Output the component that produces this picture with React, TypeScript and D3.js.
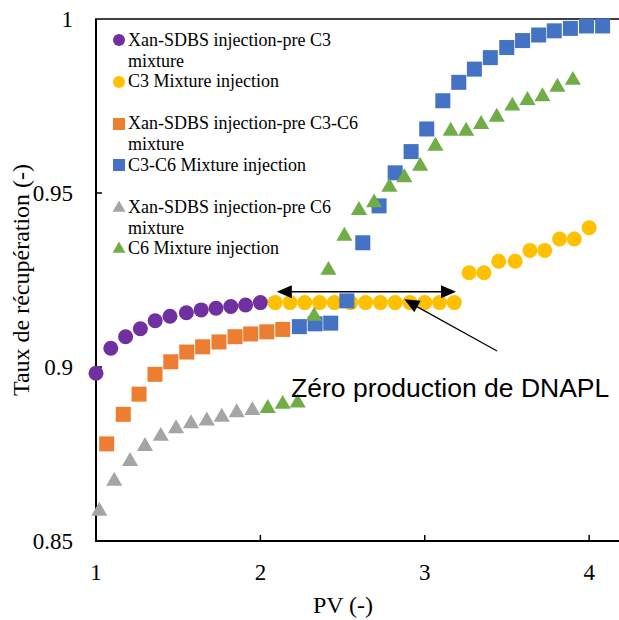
import React from "react";
import * as d3 from "d3";

const purpleX = [1.0, 1.09, 1.18, 1.27, 1.36, 1.45, 1.55, 1.64, 1.73, 1.82, 1.91, 2.0];
const purpleY = [0.8982, 0.9054, 0.9087, 0.911, 0.9133, 0.9146, 0.9156, 0.9164, 0.9169, 0.9174, 0.9178, 0.9185];

const yellowX = [2.09, 2.18, 2.27, 2.36, 2.45, 2.55, 2.64, 2.73, 2.82, 2.91, 3.0, 3.09, 3.18, 3.27, 3.36, 3.45, 3.55, 3.64, 3.73, 3.82, 3.91, 4.0];
const yellowY = [0.9185, 0.9185, 0.9185, 0.9185, 0.9185, 0.9185, 0.9185, 0.9185, 0.9185, 0.9185, 0.9185, 0.9185, 0.9185, 0.9271, 0.9271, 0.9304, 0.9304, 0.9335, 0.9335, 0.9368, 0.9368, 0.94];

const orangeX = [1.065, 1.166, 1.262, 1.359, 1.455, 1.552, 1.649, 1.748, 1.846, 1.941, 2.039, 2.136];
const orangeY = [0.8779, 0.8864, 0.8922, 0.8979, 0.9015, 0.9043, 0.9058, 0.9072, 0.9087, 0.9095, 0.9101, 0.9108];

const blueX = [2.237, 2.333, 2.428, 2.526, 2.623, 2.722, 2.82, 2.917, 3.012, 3.11, 3.207, 3.302, 3.399, 3.499, 3.595, 3.693, 3.788, 3.886, 3.984, 4.082];
const blueY = [0.9116, 0.9124, 0.9126, 0.919, 0.9357, 0.9463, 0.9558, 0.9619, 0.9684, 0.9765, 0.9818, 0.9856, 0.9889, 0.9918, 0.9938, 0.9954, 0.9966, 0.9973, 0.998, 0.998];

const grayX = [1.02, 1.111, 1.207, 1.298, 1.394, 1.487, 1.578, 1.674, 1.765, 1.856, 1.951];
const grayY = [0.8589, 0.8675, 0.8732, 0.8775, 0.8804, 0.8826, 0.884, 0.8848, 0.8859, 0.8872, 0.8878];

const greenX = [2.045, 2.136, 2.227, 2.327, 2.414, 2.511, 2.6, 2.692, 2.785, 2.876, 2.972, 3.065, 3.158, 3.252, 3.343, 3.438, 3.533, 3.625, 3.716, 3.807, 3.901];
const greenY = [0.8884, 0.8896, 0.89, 0.9149, 0.9281, 0.9379, 0.9453, 0.9475, 0.952, 0.9547, 0.958, 0.9638, 0.9681, 0.9681, 0.97, 0.9721, 0.9753, 0.9769, 0.978, 0.9807, 0.9827];

const xTicks = [1, 2, 3, 4];
const yTicks = [0.85, 0.9, 0.95, 1];
const yTickLabels = ["0.85", "0.9", "0.95", "1"];

const legendLabels = [
  ["Xan-SDBS injection-pre C3", "mixture"],
  ["C3 Mixture injection"],
  ["Xan-SDBS injection-pre C3-C6", "mixture"],
  ["C3-C6 Mixture injection"],
  ["Xan-SDBS injection-pre C6", "mixture"],
  ["C6 Mixture injection"],
];

const series = [
  { xs: purpleX, ys: purpleY, color: "#7030A0", shape: "circle" },
  { xs: yellowX, ys: yellowY, color: "#FFC000", shape: "circle" },
  { xs: orangeX, ys: orangeY, color: "#ED7D31", shape: "square" },
  { xs: blueX, ys: blueY, color: "#4472C4", shape: "square" },
  { xs: grayX, ys: grayY, color: "#A5A5A5", shape: "triangle" },
  { xs: greenX, ys: greenY, color: "#70AD47", shape: "triangle" },
];

const W = 619;
const H = 620;
const x = d3.scaleLinear().domain([1, 4.2]).range([96, 622]);
const y = d3.scaleLinear().domain([0.85, 1]).range([541, 19]);

const serif = "'Liberation Serif', 'Times New Roman', serif";

function marker(shape: string, cx: number, cy: number, size: number, color: string, key: any) {
  if (shape === "circle") return <circle key={key} cx={cx} cy={cy} r={size / 2} fill={color} />;
  if (shape === "square")
    return <rect key={key} x={cx - size / 2} y={cy - size / 2} width={size} height={size} fill={color} />;
  const sym = d3.symbol().type(d3.symbolTriangle).size(size * size * 0.5)();
  return <path key={key} d={sym || ""} transform={`translate(${cx},${cy + 1})`} fill={color} />;
}

function Arrowhead({ tipX, tipY, fromX, fromY }: any) {
  const ang = Math.atan2(tipY - fromY, tipX - fromX);
  const len = 15;
  const half = 6.5;
  const bx = tipX - len * Math.cos(ang);
  const by = tipY - len * Math.sin(ang);
  const px = -Math.sin(ang) * half;
  const py = Math.cos(ang) * half;
  return <polygon points={`${tipX},${tipY} ${bx + px},${by + py} ${bx - px},${by - py}`} fill="#000" />;
}

export default function App() {
  const legendMarkerY = [40, 82, 124, 165, 207, 248];
  const legendBaseY = [46, 87, 129, 171, 213, 254];
  const arrowY = y(0.9216);
  const ax1 = x(2.1);
  const ax2 = x(3.19);
  const tipX = x(2.876), tipY = y(0.9195);
  const tailX = x(3.44), tailY = y(0.9046);
  return (
    <svg width={W} height={H} style={{ position: "absolute", left: 0, top: 0, background: "#fff" }}>
      <rect width={W} height={H} fill="#fff" />
      {/* axes frame */}
      <line x1={x(1)} x2={x(1)} y1={y(1)} y2={y(0.85)} stroke="#000" strokeWidth={2} />
      <line x1={x(1) - 1} x2={W} y1={y(0.85)} y2={y(0.85)} stroke="#000" strokeWidth={2} />
      <line x1={x(1) - 1} x2={W} y1={y(1)} y2={y(1)} stroke="#000" strokeWidth={1.5} />
      {xTicks.slice(1).map((t) => (
        <line key={t} x1={x(t)} x2={x(t)} y1={y(0.85)} y2={y(0.85) - 6} stroke="#000" strokeWidth={1.5} />
      ))}
      {yTicks.slice(1, 3).map((t) => (
        <line key={t} x1={x(1)} x2={x(1) + 6} y1={y(t)} y2={y(t)} stroke="#000" strokeWidth={1.5} />
      ))}
      {xTicks.map((t) => (
        <text key={t} x={x(t)} y={580} textAnchor="middle" fontFamily={serif} fontSize={23} fill="#000">
          {t}
        </text>
      ))}
      {yTicks.map((t, i) => (
        <text key={t} x={73} y={y(t) + 8} textAnchor="end" fontFamily={serif} fontSize={23} fill="#000">
          {yTickLabels[i]}
        </text>
      ))}
      <text x={343} y={613} textAnchor="middle" fontFamily={serif} fontSize={24} fill="#000">
        PV (-)
      </text>
      <text
        transform={`translate(29,${(y(1) + y(0.85)) / 2}) rotate(-90)`}
        textAnchor="middle"
        fontFamily={serif}
        fontSize={24}
        fill="#000"
      >
        Taux de récupération (-)
      </text>

      {/* legend */}
      {series.map((s, i) => (
        <g key={i}>
          {marker(s.shape, 119, legendMarkerY[i], 12, s.color, "m")}
          {legendLabels[i].map((l, j) => (
            <text key={j} x={128} y={legendBaseY[i] + j * 20.5} fontFamily={serif} fontSize={18} fill="#000">
              {l}
            </text>
          ))}
        </g>
      ))}

      {/* data */}
      {series.map((s, i) => (
        <g key={i}>{s.xs.map((xv, j) => marker(s.shape, x(xv), y(s.ys[j]), 15, s.color, j))}</g>
      ))}

      {/* annotations */}
      <line x1={ax1 + 10} x2={ax2 - 10} y1={arrowY} y2={arrowY} stroke="#000" strokeWidth={1.5} />
      <Arrowhead tipX={ax1} tipY={arrowY} fromX={ax2} fromY={arrowY} />
      <Arrowhead tipX={ax2} tipY={arrowY} fromX={ax1} fromY={arrowY} />
      <line x1={tailX} y1={tailY} x2={tipX + 8} y2={tipY + 5} stroke="#000" strokeWidth={1.2} />
      <Arrowhead tipX={tipX} tipY={tipY} fromX={tailX} fromY={tailY} />
      <text x={x(2.187)} y={y(0.8914)} fontFamily="'Liberation Sans', Arial, sans-serif" fontSize={26.5} fill="#000">
        Zéro production de DNAPL
      </text>
    </svg>
  );
}
